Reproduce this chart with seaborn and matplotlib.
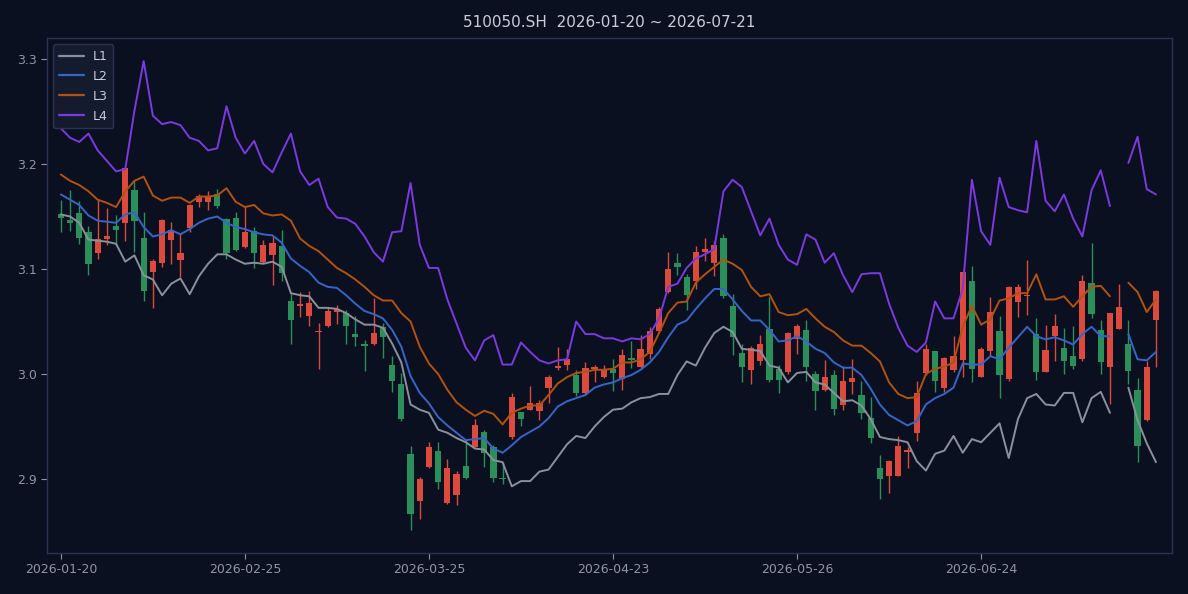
import numpy as np
import pandas as pd
import matplotlib
matplotlib.use("Agg")
import matplotlib.pyplot as plt
import seaborn as sns

# ---- data ----
TITLE = "510050.SH  2026-01-20 ~ 2026-07-21"
TICK_STEP = 20
TICK_LABELS = ["2026-01-20", "2026-02-25", "2026-03-25", "2026-04-23", "2026-05-26", "2026-06-24"]

open_ = [3.152, 3.147, 3.153, 3.135, 3.115, 3.129, 3.141, 3.144, 3.175, 3.130,
         3.097, 3.106, 3.128, 3.109, 3.139, 3.164, 3.164, 3.171, 3.148, 3.149,
         3.121, 3.136, 3.107, 3.113, 3.122, 3.070, 3.065, 3.055, 3.040, 3.046,
         3.059, 3.058, 3.038, 3.029, 3.029, 3.045, 3.009, 2.990, 2.924, 2.879,
         2.911, 2.927, 2.877, 2.885, 2.912, 2.930, 2.945, 2.930, 2.901, 2.940,
         2.964, 2.966, 2.965, 2.987, 3.006, 3.009, 2.999, 2.982, 3.005, 2.997,
         3.005, 2.995, 3.015, 3.007, 3.019, 3.041, 3.078, 3.106, 3.092, 3.089,
         3.116, 3.106, 3.130, 3.065, 3.020, 3.004, 3.012, 3.043, 3.005, 3.002,
         3.033, 3.042, 3.000, 2.985, 2.999, 2.970, 2.992, 2.980, 2.958, 2.910,
         2.903, 2.903, 2.926, 2.944, 3.001, 3.022, 2.987, 3.004, 3.013, 3.089,
         2.997, 3.022, 3.041, 2.995, 3.069, 3.074, 3.038, 3.002, 3.036, 3.025,
         3.017, 3.014, 3.087, 3.042, 3.007, 3.043, 3.029, 2.985, 2.956, 3.051]
high = [3.166, 3.175, 3.165, 3.141, 3.166, 3.158, 3.151, 3.197, 3.185, 3.154,
        3.110, 3.148, 3.145, 3.133, 3.162, 3.171, 3.174, 3.176, 3.149, 3.154,
        3.160, 3.140, 3.128, 3.131, 3.137, 3.077, 3.078, 3.079, 3.049, 3.064,
        3.066, 3.061, 3.055, 3.032, 3.072, 3.049, 3.017, 3.001, 2.931, 2.902,
        2.935, 2.935, 2.919, 2.908, 2.938, 2.957, 2.947, 2.932, 2.916, 2.982,
        2.964, 2.989, 2.975, 2.999, 3.026, 3.024, 3.004, 3.011, 3.009, 3.009,
        3.014, 3.024, 3.031, 3.037, 3.045, 3.064, 3.116, 3.115, 3.095, 3.122,
        3.130, 3.127, 3.133, 3.076, 3.029, 3.027, 3.037, 3.073, 3.009, 3.040,
        3.048, 3.051, 3.003, 3.013, 3.004, 3.008, 3.014, 2.993, 2.978, 2.923,
        2.918, 2.941, 2.930, 2.993, 3.029, 3.022, 3.016, 3.036, 3.098, 3.103,
        3.026, 3.073, 3.055, 3.084, 3.086, 3.109, 3.053, 3.047, 3.057, 3.044,
        3.046, 3.094, 3.125, 3.051, 3.058, 3.086, 3.051, 2.996, 3.012, 3.080]
low = [3.135, 3.136, 3.124, 3.094, 3.110, 3.123, 3.123, 3.127, 3.116, 3.070,
       3.063, 3.102, 3.105, 3.092, 3.135, 3.159, 3.156, 3.158, 3.110, 3.117,
       3.120, 3.101, 3.106, 3.085, 3.089, 3.029, 3.054, 3.046, 3.005, 3.045,
       3.048, 3.029, 3.027, 3.003, 3.028, 3.015, 2.983, 2.955, 2.851, 2.862,
       2.910, 2.890, 2.876, 2.875, 2.900, 2.930, 2.911, 2.897, 2.895, 2.938,
       2.950, 2.966, 2.956, 2.972, 3.004, 3.004, 2.979, 2.981, 2.992, 2.996,
       2.984, 2.985, 3.006, 3.006, 3.014, 3.040, 3.077, 3.094, 3.061, 3.081,
       3.108, 3.093, 3.072, 3.018, 2.992, 2.990, 3.009, 2.992, 2.982, 3.000,
       3.019, 2.993, 2.966, 2.984, 2.961, 2.966, 2.981, 2.957, 2.934, 2.881,
       2.887, 2.903, 2.910, 2.936, 2.999, 2.983, 2.983, 3.002, 2.997, 2.992,
       2.997, 3.017, 2.977, 2.993, 3.054, 3.056, 2.994, 3.002, 3.012, 3.000,
       3.005, 3.012, 3.053, 3.000, 2.971, 3.043, 2.990, 2.916, 2.955, 3.007]
close = [3.149, 3.144, 3.130, 3.105, 3.129, 3.131, 3.137, 3.196, 3.146, 3.079,
         3.108, 3.147, 3.137, 3.115, 3.161, 3.170, 3.170, 3.160, 3.115, 3.118,
         3.135, 3.115, 3.123, 3.125, 3.096, 3.051, 3.066, 3.068, 3.041, 3.060,
         3.062, 3.046, 3.035, 3.027, 3.039, 3.035, 2.993, 2.957, 2.867, 2.900,
         2.930, 2.897, 2.910, 2.905, 2.901, 2.951, 2.925, 2.901, 2.900, 2.978,
         2.957, 2.972, 2.972, 2.997, 3.007, 3.014, 2.982, 3.006, 3.006, 3.004,
         3.001, 3.018, 3.013, 3.024, 3.041, 3.062, 3.100, 3.102, 3.075, 3.116,
         3.119, 3.123, 3.074, 3.035, 3.007, 3.025, 3.029, 2.994, 2.994, 3.039,
         3.046, 3.007, 2.984, 2.997, 2.967, 2.993, 2.996, 2.963, 2.939, 2.900,
         2.917, 2.931, 2.927, 2.982, 3.024, 2.993, 3.015, 3.017, 3.097, 3.005,
         3.024, 3.059, 2.999, 3.083, 3.083, 3.075, 3.002, 3.023, 3.046, 3.012,
         3.008, 3.089, 3.057, 3.011, 3.058, 3.064, 3.003, 2.931, 3.007, 3.079]

nan = np.nan
L1 = [3.152, 3.150, 3.144, 3.128, 3.127, 3.126, 3.124, 3.107, 3.113, 3.094,
      3.090, 3.075, 3.086, 3.091, 3.076, 3.093, 3.105, 3.114, 3.114, 3.109,
      3.105, 3.106, 3.105, 3.107, 3.102, 3.077, 3.075, 3.074, 3.063, 3.063,
      3.062, 3.058, 3.052, 3.047, 3.047, 3.044, 3.029, 3.011, 2.971, 2.966,
      2.963, 2.947, 2.944, 2.939, 2.935, 2.929, 2.928, 2.918, 2.916, 2.893,
      2.898, 2.898, 2.907, 2.909, 2.921, 2.933, 2.941, 2.939, 2.950, 2.959,
      2.966, 2.967, 2.973, 2.977, 2.978, 2.981, 2.981, 2.999, 3.012, 3.008,
      3.025, 3.039, 3.045, 3.040, 3.024, 3.023, 3.022, 3.008, 3.006, 2.992,
      3.001, 3.002, 2.992, 2.990, 2.982, 2.974, 2.975, 2.970, 2.957, 2.940,
      2.938, 2.937, 2.935, 2.917, 2.908, 2.924, 2.927, 2.941, 2.925, 2.938,
      2.935, 2.944, 2.953, 2.920, 2.957, 2.977, 2.981, 2.971, 2.970, 2.982,
      2.982, 2.954, 2.977, 2.983, 2.963, nan, 2.987, 2.956, 2.934, 2.916]
L2 = [3.171, 3.166, 3.161, 3.151, 3.146, 3.145, 3.144, 3.152, 3.154, 3.140,
      3.131, 3.133, 3.137, 3.133, 3.138, 3.144, 3.148, 3.150, 3.144, 3.140,
      3.138, 3.135, 3.133, 3.132, 3.125, 3.110, 3.103, 3.097, 3.087, 3.083,
      3.082, 3.075, 3.067, 3.060, 3.057, 3.053, 3.042, 3.026, 2.998, 2.982,
      2.972, 2.959, 2.951, 2.944, 2.937, 2.938, 2.939, 2.929, 2.925, 2.932,
      2.940, 2.945, 2.950, 2.958, 2.969, 2.974, 2.977, 2.980, 2.987, 2.990,
      2.992, 2.996, 2.999, 3.004, 3.011, 3.021, 3.035, 3.047, 3.051, 3.062,
      3.072, 3.081, 3.081, 3.071, 3.060, 3.051, 3.051, 3.042, 3.031, 3.032,
      3.036, 3.031, 3.024, 3.020, 3.011, 3.006, 3.006, 2.999, 2.986, 2.971,
      2.961, 2.956, 2.951, 2.955, 2.971, 2.977, 2.981, 2.987, 3.010, 3.009,
      3.009, 3.017, 3.014, 3.025, 3.035, 3.045, 3.036, 3.033, 3.035, 3.032,
      3.028, 3.038, 3.045, 3.036, 3.036, nan, 3.038, 3.014, 3.013, 3.021]
L3 = [3.190, 3.184, 3.180, 3.174, 3.166, 3.163, 3.159, 3.174, 3.184, 3.188,
      3.170, 3.165, 3.168, 3.168, 3.163, 3.169, 3.169, 3.170, 3.177, 3.164,
      3.159, 3.161, 3.153, 3.151, 3.152, 3.146, 3.129, 3.122, 3.117, 3.109,
      3.101, 3.096, 3.090, 3.083, 3.075, 3.070, 3.070, 3.058, 3.050, 3.026,
      3.010, 3.000, 2.985, 2.973, 2.966, 2.960, 2.965, 2.962, 2.952, 2.963,
      2.967, 2.970, 2.970, 2.980, 2.991, 2.997, 3.001, 3.002, 3.004, 3.004,
      3.005, 3.011, 3.011, 3.014, 3.021, 3.039, 3.058, 3.068, 3.069, 3.087,
      3.095, 3.102, 3.109, 3.105, 3.099, 3.083, 3.074, 3.076, 3.059, 3.056,
      3.057, 3.062, 3.053, 3.045, 3.040, 3.032, 3.027, 3.027, 3.020, 3.012,
      2.992, 2.981, 2.977, 2.978, 3.000, 3.005, 3.007, 3.011, 3.045, 3.065,
      3.047, 3.052, 3.070, 3.072, 3.077, 3.077, 3.095, 3.071, 3.071, 3.074,
      3.064, 3.074, 3.083, 3.084, 3.074, nan, 3.087, 3.078, 3.059, 3.071]
L4 = [3.234, 3.225, 3.221, 3.229, 3.213, 3.203, 3.193, 3.195, 3.251, 3.298,
      3.246, 3.238, 3.240, 3.237, 3.225, 3.222, 3.213, 3.215, 3.255, 3.225,
      3.210, 3.222, 3.200, 3.192, 3.211, 3.229, 3.193, 3.180, 3.186, 3.159,
      3.149, 3.148, 3.143, 3.131, 3.116, 3.107, 3.135, 3.136, 3.182, 3.123,
      3.101, 3.101, 3.071, 3.048, 3.025, 3.013, 3.032, 3.037, 3.009, 3.009,
      3.030, 3.021, 3.013, 3.010, 3.013, 3.014, 3.050, 3.038, 3.038, 3.034,
      3.034, 3.031, 3.034, 3.033, 3.038, 3.053, 3.083, 3.086, 3.101, 3.110,
      3.114, 3.119, 3.174, 3.185, 3.178, 3.155, 3.132, 3.148, 3.123, 3.109,
      3.104, 3.133, 3.128, 3.106, 3.115, 3.094, 3.078, 3.095, 3.096, 3.096,
      3.067, 3.044, 3.027, 3.021, 3.030, 3.069, 3.053, 3.053, 3.081, 3.185,
      3.136, 3.123, 3.187, 3.159, 3.156, 3.154, 3.222, 3.165, 3.155, 3.171,
      3.148, 3.131, 3.175, 3.194, 3.160, nan, 3.201, 3.226, 3.176, 3.171]

# ---- styling ----
BG = "#0b1020"
SPINE = "#2a3352"
TXT = "#8e95a3"
UP = "#dc4a3e"
DOWN = "#2a8f58"
LINE_COLORS = {"L1": "#8a919c", "L2": "#3466c8", "L3": "#b2520f", "L4": "#7a3ae0"}

sns.set_theme(style="dark")
plt.rcParams["font.family"] = ["DejaVu Sans"]

df = pd.DataFrame({"open": open_, "high": high, "low": low, "close": close})
df["x"] = np.arange(len(df))

# long frame for the indicator lines, split into segments at gaps
rows = []
for name, vals in [("L1", L1), ("L2", L2), ("L3", L3), ("L4", L4)]:
    seg = 0
    for i, v in enumerate(vals):
        if np.isnan(v):
            seg += 1
            continue
        rows.append({"x": i, "value": v, "line": name, "seg": f"{name}-{seg}"})
lines = pd.DataFrame(rows)

fig = plt.figure(figsize=(11.88, 5.94), dpi=100, facecolor=BG)
ax = fig.add_axes([0.0396, 0.069, 0.947, 0.867])
ax.set_facecolor(BG)

# candles
up = df["close"] >= df["open"]
colors = np.where(up, UP, DOWN)
ax.vlines(df["x"], df["low"], df["high"], colors=colors, linewidth=1.0, zorder=2)
body_lo = np.minimum(df["open"], df["close"])
body_h = np.maximum((df["close"] - df["open"]).abs(), 0.0012)
ax.bar(df["x"], body_h, bottom=body_lo, width=0.68, color=colors, linewidth=0, zorder=3)

# indicator lines
sns.lineplot(data=lines, x="x", y="value", hue="line", units="seg", estimator=None,
             palette=LINE_COLORS, linewidth=1.4, ax=ax, zorder=4)

ax.set_xlim(-1.5, 120.75)
ax.set_ylim(2.8295, 3.32)
ticks = np.arange(0, len(df), TICK_STEP)
ax.set_xticks(ticks)
ax.set_xticklabels(TICK_LABELS)
ax.set_yticks([2.9, 3.0, 3.1, 3.2, 3.3])
ax.set_yticklabels(["2.9", "3.0", "3.1", "3.2", "3.3"])
ax.set_xlabel("")
ax.set_ylabel("")
ax.grid(False)
ax.tick_params(colors=TXT, labelsize=9, length=4, width=0.8, bottom=True, left=True)
for s in ax.spines.values():
    s.set_color(SPINE)
    s.set_linewidth(1.0)

ax.set_title(TITLE, color="#c9cdd6", fontsize=11, pad=8)

leg = ax.legend(loc="upper left", fontsize=9, frameon=True, facecolor="#151b2e",
                edgecolor=SPINE, labelcolor="#c9cdd6", handlelength=2.0,
                borderpad=0.45, handletextpad=0.7, labelspacing=0.55)
leg.get_frame().set_alpha(1.0)
for h in leg.get_lines():
    h.set_linewidth(1.6)

fig.savefig("out.png", dpi=100, facecolor=BG)
